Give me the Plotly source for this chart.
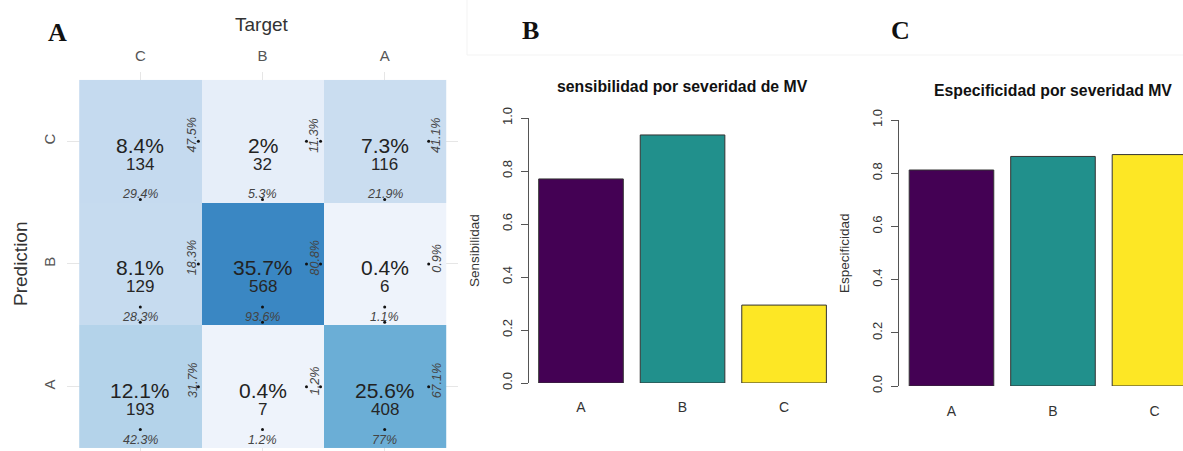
import plotly.graph_objects as go

W, H = 1183, 451

# ---- data -------------------------------------------------------------
target_labels = ["C", "B", "A"]          # columns, left to right
prediction_labels = ["A", "B", "C"]      # rows, bottom to top
# counts[row][col], rows ordered like prediction_labels
counts_A = [193, 7, 408]
counts_B = [129, 568, 6]
counts_C = [134, 32, 116]
counts = [counts_A, counts_B, counts_C]

severity = ["A", "B", "C"]
sensibilidad = [0.770, 0.936, 0.294]
especificidad = [0.812, 0.863, 0.870]
bar_colors = ["#440154", "#21908C", "#FDE725"]


def px_x(p):
    return p / W


def px_y(p):
    return 1 - p / H


def fmt(v):
    s = f"{v:.1f}"
    if s.endswith(".0"):
        s = s[:-2]
    return s + "%"


fig = go.Figure()

# ---- panel A: confusion matrix ---------------------------------------
blues = [
    [0.0, "#f0f4fc"],
    [0.056, "#e6eef9"],
    [0.21, "#c9dcf0"],
    [0.34, "#b4d3ea"],
    [0.718, "#6baed6"],
    [1.0, "#3a87c3"],
]
fig.add_trace(go.Heatmap(
    z=counts, x=[0, 1, 2], y=[0, 1, 2],
    colorscale=blues, zmin=0, zmax=568, showscale=False,
    xaxis="x", yaxis="y", hoverinfo="skip",
))

total = sum(sum(r) for r in counts)
col_tot = [sum(counts[r][c] for r in range(3)) for c in range(3)]
row_tot = [sum(counts[r]) for r in range(3)]
LF = "Liberation Sans, Arial, sans-serif"

annotations = []
dot_x, dot_y = [], []
for r in range(3):
    for c in range(3):
        n = counts[r][c]
        common = dict(x=c, y=r, xref="x", yref="y", showarrow=False,
                      xanchor="center", yanchor="middle")
        annotations += [
            dict(common, text=fmt(100 * n / total), yshift=-4,
                 font=dict(size=21, color="#222", family=LF)),
            dict(common, text=str(n), yshift=-23,
                 font=dict(size=17, color="#262626", family=LF)),
            dict(common, text="<i>" + fmt(100 * n / col_tot[c]) + "</i>", yshift=-53,
                 font=dict(size=12.5, color="#444", family=LF)),
            dict(common, text="<i>" + fmt(100 * n / row_tot[r]) + "</i>",
                 xshift=52, yshift=6, textangle=-90,
                 font=dict(size=12.5, color="#444", family=LF)),
        ]
        # small markers next to the row / column percentages
        if c < 2:
            dot_x.append(c + 0.475); dot_y.append(r)
        if c > 0:
            dot_x.append(c + 0.36); dot_y.append(r)
        if r > 0:
            dot_x.append(c); dot_y.append(r - 0.475)
        if r < 2:
            dot_x.append(c); dot_y.append(r - 0.35)

fig.add_trace(go.Scatter(x=dot_x, y=dot_y, mode="markers", xaxis="x", yaxis="y",
                         marker=dict(size=3, color="#111"), hoverinfo="skip"))

# ---- panels B and C: bar charts --------------------------------------
fig.add_trace(go.Bar(
    x=[0, 1, 2], y=sensibilidad, width=1 / 1.2, xaxis="x2", yaxis="y2",
    marker=dict(color=bar_colors, line=dict(color="#333", width=1)), hoverinfo="skip",
))
fig.add_trace(go.Bar(
    x=[0, 1, 2], y=especificidad, width=1 / 1.2, xaxis="x3", yaxis="y3",
    marker=dict(color=bar_colors, line=dict(color="#333", width=1)), hoverinfo="skip",
))

tick_font = dict(size=13, color="#333", family=LF)
cat_font = dict(size=14, color="#333", family=LF)
yticks = [0, 0.2, 0.4, 0.6, 0.8, 1.0]
yticktext = ["0.0", "0.2", "0.4", "0.6", "0.8", "1.0"]
fig.update_layout(
    width=W, height=H, margin=dict(l=0, r=0, t=0, b=0, autoexpand=False),
    paper_bgcolor="white", plot_bgcolor="rgba(0,0,0,0)", showlegend=False,
    xaxis=dict(domain=[px_x(67), px_x(458)], range=[-0.6, 2.6], side="top",
               tickvals=[0, 1, 2], ticktext=target_labels, showgrid=True,
               gridcolor="#e6e6e6", zeroline=False, ticks="", ticklabelstandoff=7,
               tickfont=dict(size=15, color="#555", family=LF), anchor="y",
               automargin=False),
    yaxis=dict(domain=[0, px_y(72)], range=[-0.5245, 2.565],
               tickvals=[0, 1, 2], ticktext=prediction_labels, showgrid=True,
               gridcolor="#e6e6e6", zeroline=False, ticks="", tickangle=-90,
               ticklabelstandoff=8, tickfont=dict(size=15, color="#555", family=LF),
               anchor="x", automargin=False),
    xaxis2=dict(domain=[px_x(528), px_x(845)], range=[-0.522, 2.6],
                tickvals=[0, 1, 2], ticktext=severity, showgrid=False, zeroline=False,
                showline=False, ticks="", ticklabelstandoff=14, tickfont=cat_font,
                anchor="y2", automargin=False),
    yaxis2=dict(domain=[px_y(383), px_y(118)], range=[0, 1], anchor="free",
                position=px_x(528), tickvals=yticks, ticktext=yticktext,
                showline=True, linecolor="#555", linewidth=1, ticks="outside",
                ticklen=7, tickcolor="#555", tickangle=-90, showgrid=False,
                zeroline=False, tickfont=tick_font, ticklabelstandoff=4,
                automargin=False),
    xaxis3=dict(domain=[px_x(898), 1.0], range=[-0.527, 2.281],
                tickvals=[0, 1, 2], ticktext=severity, showgrid=False, zeroline=False,
                showline=False, ticks="", ticklabelstandoff=15, tickfont=cat_font,
                anchor="y3", automargin=False),
    yaxis3=dict(domain=[px_y(386), px_y(120)], range=[0, 1], anchor="free",
                position=px_x(898), tickvals=yticks, ticktext=yticktext,
                showline=True, linecolor="#555", linewidth=1, ticks="outside",
                ticklen=7, tickcolor="#555", tickangle=-90, showgrid=False,
                zeroline=False, tickfont=tick_font, ticklabelstandoff=4,
                automargin=False),
)

serif = "Liberation Serif, Times New Roman, serif"


def label(x, y, text, size, color="#333", family=LF, angle=0):
    return dict(x=px_x(x), y=px_y(y), xref="paper", yref="paper", text=text,
                showarrow=False, xanchor="center", yanchor="middle", textangle=angle,
                font=dict(size=size, color=color, family=family))


annotations += [
    label(58, 33, "<b>A</b>", 26, "#111", serif),
    label(530, 30, "<b>B</b>", 26, "#111", serif),
    label(900, 30, "<b>C</b>", 26, "#111", serif),
    label(262, 25, "Target", 19),
    label(20, 264, "Prediction", 19, angle=-90),
    label(682, 87, "<b>sensibilidad por severidad de MV</b>", 15.8, "#111"),
    label(1053, 90, "<b>Especificidad por severidad MV</b>", 15.8, "#111"),
    label(474, 251, "Sensibilidad", 13.5, angle=-90),
    label(844, 253, "Especificidad", 13.5, angle=-90),
]
fig.update_layout(annotations=annotations)

# faint frame around the upper strip of the right-hand panels
fig.add_shape(type="rect", xref="paper", yref="paper",
              x0=px_x(467), x1=px_x(1190), y0=px_y(55), y1=px_y(-5),
              line=dict(color="#f3f3f3", width=1), layer="below")

fig.write_html("out.html")
